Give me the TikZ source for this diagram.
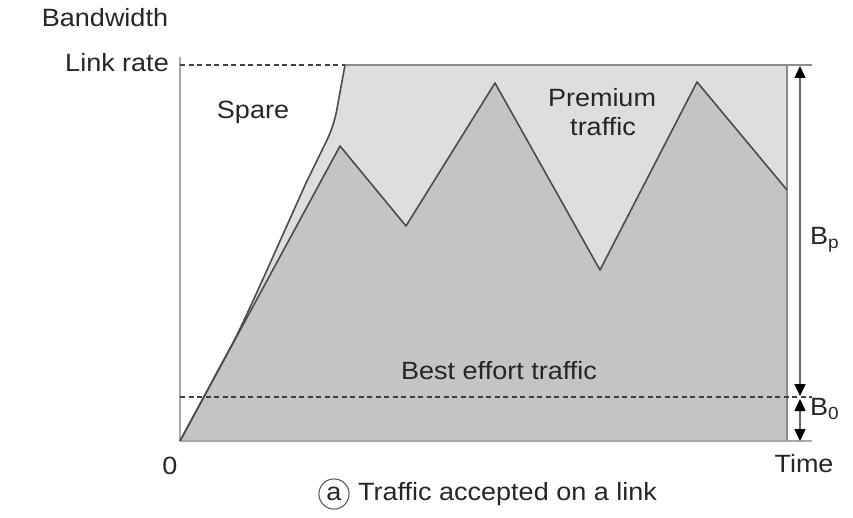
\documentclass[tikz,border=0pt]{standalone}
\usepackage{fontspec}
\setmainfont{Liberation Sans}[FakeStretch=1.08]
\usetikzlibrary{arrows.meta}
\definecolor{premium}{HTML}{DEDEDE}
\definecolor{besteffort}{HTML}{C4C4C4}
\definecolor{axisgrey}{HTML}{A8A8A8}
\definecolor{edgegrey}{HTML}{8C8C8C}
\definecolor{curve}{HTML}{4C4C4C}
\begin{document}
\begin{tikzpicture}[x=1pt,y=-1pt,
  lbl/.style={font=\fontsize{25}{27}\selectfont, inner sep=0pt, text=black!85},
  curveline/.style={draw=curve, line width=1.6pt, line join=round},
  dashline/.style={draw=black!75, line width=1.5pt, dash pattern=on 5pt off 3.5pt},
  axisline/.style={draw=axisgrey, line width=2.5pt},
  edgeline/.style={draw=edgegrey, line width=2pt},
  dimline/.style={draw=black!60, line width=1.4pt,
    {Triangle[width=11pt,length=12pt,color=black]}-{Triangle[width=11pt,length=12pt,color=black]}}
]
\useasboundingbox (0,0) rectangle (853,518);

% key points of the chart
\coordinate (O)  at (180,441);
\coordinate (LR) at (180,65);
\coordinate (K)  at (345,65);
\coordinate (TR) at (787,65);
\coordinate (BR) at (787,441);
\coordinate (E)  at (787,190);
\coordinate (B0) at (180,397);

% premium traffic band
\fill[premium] (O) -- (235,339) .. controls (250,308) .. (306,183) -- (327,140) .. controls (333,127) and (336,116) .. (338,103)
  -- (K) -- (TR) -- (E) -- (697,82) -- (600,270) -- (495,83) -- (406,226) -- (340,146) -- cycle;
% best effort traffic
\fill[besteffort] (O) -- (340,146) -- (406,226) -- (495,83) -- (600,270) -- (697,82) -- (E) -- (BR) -- cycle;

% axes and frame
\draw[axisline] (180,57) -- (O);
\draw[axisline] (O) -- (812,441);
\draw[edgeline] (TR) -- (BR);
\draw[edgeline] (K) -- (812,65);
\draw[dashline] (LR) -- (K);
\draw[dashline] (B0) -- (812,397);

% envelope of accepted traffic
\draw[curveline] (O) -- (235,339) .. controls (250,308) .. (306,183) -- (327,140) .. controls (333,127) and (336,116) .. (338,103) -- (K);
% best effort traffic curve
\draw[curveline] (O) -- (340,146) -- (406,226) -- (495,83) -- (600,270) -- (697,82) -- (E);

% bandwidth dimensions
\coordinate (dTop) at (800,66);
\coordinate (dMid) at (800,396);
\coordinate (dMid2) at (800,399);
\coordinate (dBot) at (800,441);
\draw[dimline] (dTop) -- (dMid);
\draw[dimline] (dMid2) -- (dBot);

% labels
\node[lbl] (bw) at (105,18) {Bandwidth};
\node[lbl, anchor=east] (lr) at (169,63) {Link rate};
\node[lbl] (spare) at (253,112) {Spare};
\node[lbl] (prem1) at (602,98) {Premium};
\node[lbl] (prem2) at (603,127) {traffic};
\node[lbl] (best) at (499,371) {Best effort traffic};
\node[lbl, anchor=west] (bp) at (810,240) {B\textsubscript{p}};
\node[lbl, anchor=west] (bz) at (810,409) {B\textsubscript{0}};
\node[lbl] (zero) at (170,466) {0};
\node[lbl] (time) at (804,464) {Time};
\node[lbl, circle, draw=black!70, line width=1pt, inner sep=3.5pt] (tag) at (334,494) {a};
\node[lbl, anchor=west] (cap) at (358,494) {Traffic accepted on a link};
\end{tikzpicture}
\end{document}
